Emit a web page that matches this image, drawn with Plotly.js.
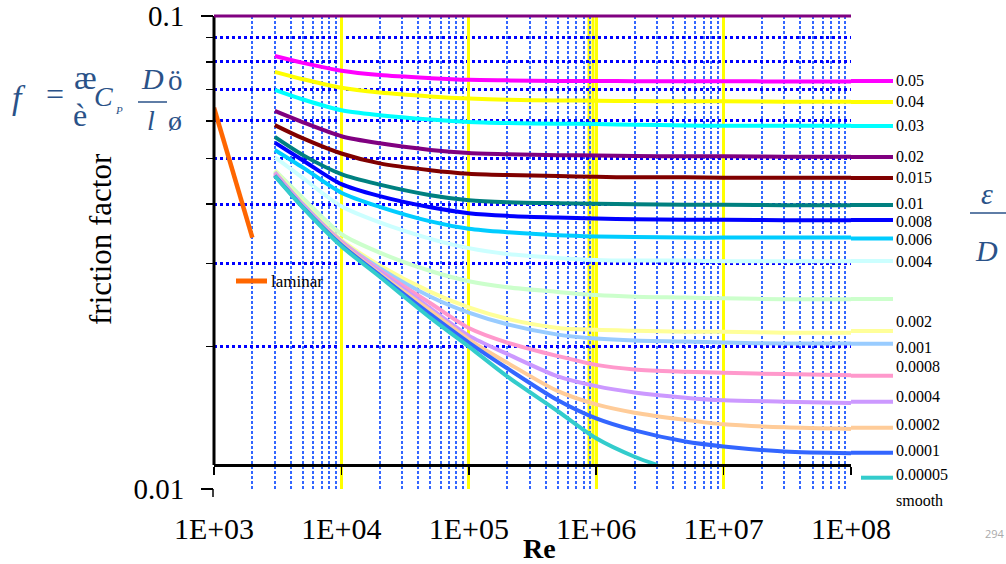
<!DOCTYPE html>
<html><head><meta charset="utf-8">
<script src="https://cdn.plot.ly/plotly-3.0.1.min.js"></script>
<style>html,body{margin:0;padding:0;background:#fff}#chart{width:1006px;height:564px}</style>
</head><body><div id="chart"></div>
<script>
// ---------- DATA ----------
const reGrid = [3000, 5000, 1e4, 2e4, 5e4, 1e5, 2e5, 5e5, 1e6, 2e6, 5e6, 1e7, 3e7, 1e8];
const f_0_05    = [0.0823, 0.0796, 0.0766, 0.0750, 0.0739, 0.0733, 0.0731, 0.0729, 0.0729, 0.0728, 0.0728, 0.0728, 0.0727, 0.0727];
const f_0_04    = [0.0762, 0.0735, 0.0705, 0.0689, 0.0676, 0.0669, 0.0665, 0.0663, 0.0662, 0.0661, 0.0660, 0.0660, 0.0659, 0.0659];
const f_0_03    = [0.0698, 0.0666, 0.0632, 0.0617, 0.0604, 0.0597, 0.0594, 0.0592, 0.0591, 0.0589, 0.0587, 0.0586, 0.0586, 0.0586];
const f_0_02    = [0.0630, 0.0596, 0.0557, 0.0538, 0.0521, 0.0513, 0.0510, 0.0508, 0.0507, 0.0506, 0.0505, 0.0505, 0.0504, 0.0504];
const f_0_015   = [0.0588, 0.0551, 0.0512, 0.0488, 0.0472, 0.0464, 0.0461, 0.0459, 0.0457, 0.0456, 0.0456, 0.0455, 0.0455, 0.0455];
const f_0_01    = [0.0555, 0.0508, 0.0463, 0.0440, 0.0418, 0.0408, 0.0404, 0.0402, 0.0401, 0.0400, 0.0399, 0.0399, 0.0398, 0.0398];
const f_0_008   = [0.0540, 0.0495, 0.0441, 0.0416, 0.0394, 0.0383, 0.0378, 0.0375, 0.0373, 0.0372, 0.0371, 0.0371, 0.0370, 0.0370];
const f_0_006   = [0.0521, 0.0478, 0.0423, 0.0395, 0.0368, 0.0355, 0.0349, 0.0344, 0.0342, 0.0341, 0.0340, 0.0340, 0.0340, 0.0340];
const f_0_004   = [0.0503, 0.0454, 0.0396, 0.0366, 0.0338, 0.0323, 0.0314, 0.0308, 0.0305, 0.0304, 0.0304, 0.0303, 0.0303, 0.0303];
const f_0_002   = [0.0472, 0.0412, 0.0346, 0.0316, 0.0289, 0.0275, 0.0267, 0.0261, 0.0257, 0.0255, 0.0254, 0.0253, 0.0252, 0.0252];
const f_0_001   = [0.0470, 0.0403, 0.0336, 0.0297, 0.0261, 0.0242, 0.0229, 0.0219, 0.0217, 0.0216, 0.0215, 0.0215, 0.0214, 0.0214];
const f_0_0008  = [0.0468, 0.0400, 0.0334, 0.0293, 0.0255, 0.0236, 0.0223, 0.0212, 0.0208, 0.0206, 0.0205, 0.0204, 0.0203, 0.0203];
const f_0_0004  = [0.0466, 0.0398, 0.0333, 0.0290, 0.0247, 0.0219, 0.0204, 0.0191, 0.0183, 0.0179, 0.0177, 0.0176, 0.0175, 0.0174];
const f_0_0002  = [0.0463, 0.0397, 0.0331, 0.0288, 0.0241, 0.0211, 0.0193, 0.0173, 0.0165, 0.0160, 0.0156, 0.0154, 0.0153, 0.0152];
const f_0_0001  = [0.0461, 0.0395, 0.0330, 0.0285, 0.0238, 0.0207, 0.0185, 0.0161, 0.0151, 0.0145, 0.0140, 0.0137, 0.0135, 0.0134];
const f_0_00005 = [0.0460, 0.0394, 0.0328, 0.0283, 0.0234, 0.0204, 0.0180, 0.0154, 0.0141, 0.0133, 0.0126, 0.0123, 0.0120, 0.0119];
const reSmooth  = [3000, 5000, 1e4, 2e4, 5e4, 1e5, 2e5, 5e5, 1e6, 2e6, 3e6];
const f_smooth  = [0.0459, 0.0393, 0.0326, 0.0281, 0.0230, 0.0200, 0.0173, 0.0146, 0.0128, 0.0117, 0.01125];
const reLaminar = [1000, 2000];
const fLaminar  = [0.064, 0.034];

const seriesLabels = ['0.05','0.04','0.03','0.02','0.015','0.01','0.008','0.006','0.004','0.002','0.001','0.0008','0.0004','0.0002','0.0001','0.00005','smooth'];
const laminarLabel = 'laminar';
const xTickVals = [1e3, 1e4, 1e5, 1e6, 1e7, 1e8];
const xTickText = ['1E+03','1E+04','1E+05','1E+06','1E+07','1E+08'];
const yTickVals = [0.01, 0.1];
const yTickText = ['0.01','0.1'];
const xTitle = 'Re';
const yTitle = 'friction factor';

// ---------- STYLE / LAYOUT ----------
const seriesColors = ['#ff00ff','#ffff00','#00ffff','#800080','#800000','#008080','#0000ff','#00ccff','#ccffff','#ccffcc','#ffff99','#99ccff','#ff99cc','#cc99ff','#ffcc99','#3366ff','#33cccc'];
const turbSeries = [f_0_05,f_0_04,f_0_03,f_0_02,f_0_015,f_0_01,f_0_008,f_0_006,f_0_004,f_0_002,f_0_001,f_0_0008,f_0_0004,f_0_0002,f_0_0001,f_0_00005];

// pixel -> paper helpers (plot area: x 214..851, y 16..489)
const PX = x => (x - 214) / 637;
const PY = y => (489 - y) / 473;

const traces = [];
turbSeries.forEach((f, i) => traces.push({
  type:'scatter', mode:'lines', x:reGrid, y:f, name:seriesLabels[i],
  line:{color:seriesColors[i], width:4, shape:'spline', smoothing:0.8}, hoverinfo:'skip'
}));
traces.push({type:'scatter', mode:'lines', x:reSmooth, y:f_smooth, name:'smooth',
  line:{color:seriesColors[16], width:4, shape:'spline', smoothing:0.8}, hoverinfo:'skip'});
traces.push({type:'scatter', mode:'lines', x:reLaminar, y:fLaminar, name:laminarLabel,
  line:{color:'#ff6600', width:4.5}, hoverinfo:'skip', cliponaxis:false});

const xMinor = [];
for (let d = 3; d < 8; d++) for (let k = 2; k <= 9; k++) xMinor.push(k * Math.pow(10, d));
const yMinor = [0.02,0.03,0.04,0.05,0.06,0.07,0.08,0.09];

// legend geometry (pixels)
const symY   = [81,102,126,157,178,205,220,238.5,261,299,331,343.7,375.7,401.7,427.7,452.7,477.7];
const labelY = [80.7,101.7,125.7,156.7,177.7,204,221,239,261,321,347.5,366.5,396.7,424,450,474,500];

const shapes = [];
const annotations = [];
const serif = '"Liberation Serif", "Times New Roman", serif';
const blueText = '#2a5288';

// frame: left axis line, top purple border, bottom tick stub, extra yellow lines
shapes.push({type:'line', xref:'paper', yref:'paper', x0:0, x1:0, y0:PY(465), y1:1, line:{color:'#000', width:3}});
shapes.push({type:'line', xref:'paper', yref:'paper', x0:0, x1:1, y0:1, y1:1, line:{color:'#800080', width:3}});
shapes.push({type:'line', xref:'paper', yref:'paper', x0:PX(213), x1:PX(213), y0:PY(489), y1:PY(497), line:{color:'#000', width:1.5}});
[589, 593].forEach(x => shapes.push({type:'line', xref:'paper', yref:'paper', x0:PX(x), x1:PX(x), y0:PY(465), y1:1, line:{color:'#ffff00', width:3}, layer:'below'}));

// legend symbols + labels
seriesLabels.forEach((lab, i) => {
  shapes.push({type:'line', xref:'paper', yref:'paper', x0:PX(i === 16 ? 861 : 851), x1:PX(893), y0:PY(symY[i]), y1:PY(symY[i]), line:{color:seriesColors[i], width:4}});
  annotations.push({xref:'paper', yref:'paper', x:PX(894), y:PY(labelY[i]), text:lab, showarrow:false, xanchor:'left', yanchor:'middle', font:{family:serif, size:16, color:'#000'}});
});
// laminar legend
shapes.push({type:'line', xref:'paper', yref:'paper', x0:PX(236), x1:PX(267), y0:PY(281), y1:PY(281), line:{color:'#ff6600', width:5}});
annotations.push({xref:'paper', yref:'paper', x:PX(269), y:PY(281), text:laminarLabel, showarrow:false, xanchor:'left', yanchor:'middle', font:{family:serif, size:17, color:'#000'}});

function txt(x, y, t, size, color, extra) {
  annotations.push(Object.assign({xref:'paper', yref:'paper', x:PX(x), y:PY(y), text:t, showarrow:false, xanchor:'center', yanchor:'middle', font:{family:serif, size:size, color:color}}, extra || {}));
}
// axis titles
txt(100, 239, yTitle, 31, '#000', {textangle:-90});
txt(539, 548, '<b>' + xTitle + '</b>', 28, '#000');

// formula  f = (Cp D / l)
txt(19, 98, '<i>f</i>', 34, blueText);
txt(55, 94, '=', 32, blueText);
txt(85, 77, 'æ', 34, blueText);
txt(80, 115, 'è', 32, blueText);
txt(103, 96, '<i>C</i>', 28, blueText);
txt(119, 110, '<i>P</i>', 11, blueText);
txt(152, 79, '<i>D</i>', 30, blueText);
txt(175, 80, 'ö', 29, blueText);
txt(151, 121, '<i>l</i>', 28, blueText);
txt(175, 121, 'ø', 28, blueText);
shapes.push({type:'line', xref:'paper', yref:'paper', x0:PX(138), x1:PX(167), y0:PY(102), y1:PY(102), line:{color:blueText, width:1.5}});
// eps / D
txt(987, 193, '<i>ε</i>', 30, blueText);
txt(986, 250, '<i>D</i>', 30, blueText);
shapes.push({type:'line', xref:'paper', yref:'paper', x0:PX(970), x1:PX(1006), y0:PY(213), y1:PY(213), line:{color:blueText, width:1.5}});
// page number
annotations.push({xref:'paper', yref:'paper', x:PX(983), y:PY(533), text:'294', showarrow:false, xanchor:'left', yanchor:'middle', font:{family:'"Open Sans", sans-serif', size:11, color:'#aaaaaa'}});

const layout = {
  width:1006, height:564,
  margin:{l:214, r:155, t:16, b:75, pad:0},
  paper_bgcolor:'#ffffff', plot_bgcolor:'#ffffff',
  showlegend:false,
  font:{family:serif, color:'#000'},
  xaxis:{
    type:'log', range:[3, 8], anchor:'free', position:PY(465),
    showline:true, linecolor:'#000', linewidth:3, zeroline:false,
    tickmode:'array', tickvals:xTickVals, ticktext:xTickText,
    ticks:'outside', ticklen:8, tickwidth:1.5, tickcolor:'#000',
    tickfont:{family:serif, size:30, color:'#000'}, ticklabelstandoff:28,
    showgrid:true, gridcolor:'#ffff00', gridwidth:3,
    minor:{tickmode:'array', tickvals:xMinor, ticks:'', showgrid:true, gridcolor:'#3366ff', gridwidth:2, griddash:'3px,2px'}
  },
  yaxis:{
    type:'log', range:[-2, -1], showline:false, zeroline:false,
    tickmode:'array', tickvals:yTickVals, ticktext:yTickText,
    ticks:'outside', ticklen:12, tickwidth:1.5, tickcolor:'#000',
    tickfont:{family:serif, size:29, color:'#000'}, ticklabelstandoff:11,
    showgrid:false,
    minor:{tickmode:'array', tickvals:yMinor, ticks:'outside', ticklen:7, tickwidth:1.5, tickcolor:'#000', showgrid:true, gridcolor:'#0000ff', gridwidth:3, griddash:'3px,3px'}
  },
  shapes:shapes,
  annotations:annotations
};

Plotly.newPlot('chart', traces, layout, {displayModeBar:false, staticPlot:true});
</script>
</body></html>
